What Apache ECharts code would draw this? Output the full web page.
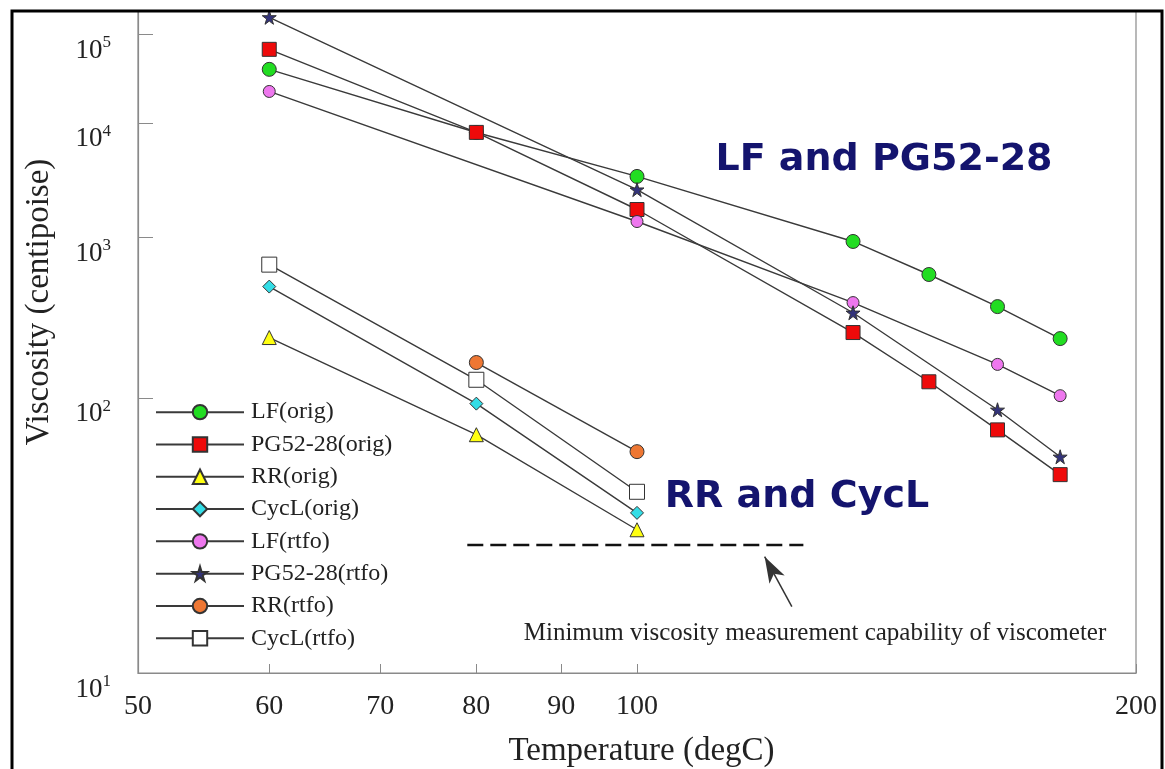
<!DOCTYPE html>
<html>
<head>
<meta charset="utf-8">
<script src="https://cdn.jsdelivr.net/npm/echarts@6/dist/echarts.min.js"></script>
<style>
  html, body { margin: 0; padding: 0; background: #fff; }
  #chart { width: 1165px; height: 769px; }
</style>
</head>
<body>
<div id="chart"></div>
<script>
// temperatures (degC) and viscosities (centipoise)
var lfOrigT = [60, 80, 100, 135, 150, 165, 180];
var lfOrigV = [37700, 8000, 3120, 925, 536, 329, 210];
var pgOrigT = [60, 80, 100, 135, 150, 165, 180];
var pgOrigV = [65000, 8020, 1640, 228, 121, 70, 44.5];
var rrOrigT = [60, 80, 100];
var rrOrigV = [213, 66.5, 27.2];
var cyclOrigT = [60, 80, 100];
var cyclOrigV = [444, 93.6, 31.4];
var lfRtfoT = [60, 100, 135, 165, 180];
var lfRtfoV = [21300, 1315, 349, 150, 102.6];
var pgRtfoT = [60, 100, 135, 165, 180];
var pgRtfoV = [165000, 2400, 301, 87.3, 53];
var rrRtfoT = [80, 100];
var rrRtfoV = [153.6, 55.8];
var cyclRtfoT = [60, 80, 100];
var cyclRtfoV = [628, 124, 37.9];

// viscometer limit and arrow
var minLineT = [79, 126];
var minLineV = 24;
var arrowFrom = [124, 15.2];
var arrowTo = [119.4, 21.9];

var xTicks = [50, 60, 70, 80, 90, 100, 200];
var yTicks = [10, 100, 1000, 10000, 100000];
var xRange = [50, 200];
var yRange = [10, 200000];

// log temperature, log-log viscosity
function tx(t) { return Math.log10(t); }
function ty(v) { return Math.log10(Math.log10(v)); }
function pts(ts, vs) {
  var res = [];
  for (var i = 0; i < ts.length; i++) res.push([tx(ts[i]), ty(vs[i])]);
  return res;
}

var serif = "'Liberation Serif', 'Times New Roman', serif";
var starPath = 'path://M50,0 L61,35 L98,35 L68,57 L79,91 L50,70 L21,91 L32,57 L2,35 L39,35 Z';

function mk(name, ts, vs, symbol, size, color) {
  return {
    name: name,
    type: 'line',
    data: pts(ts, vs),
    symbol: symbol,
    symbolSize: size,
    showSymbol: true,
    lineStyle: { color: '#3a3a3a', width: 1.4 },
    itemStyle: { color: color, borderColor: '#333', borderWidth: 1 },
    emphasis: { disabled: true },
    z: 3
  };
}

var myChart = echarts.init(document.getElementById('chart'));

myChart.setOption({
  animation: false,
  backgroundColor: '#fff',
  grid: {
    left: 138, right: 29, top: 11, bottom: 96,
    outerBoundsMode: 'none',
    containLabel: false,
    show: true, borderColor: '#8a8a8a', borderWidth: 1.2
  },
  legend: {
    orient: 'vertical',
    left: 150,
    top: 395,
    itemWidth: 88,
    itemHeight: 18,
    itemGap: 8,
    data: ['LF(orig)', 'PG52-28(orig)', 'RR(orig)', 'CycL(orig)',
           'LF(rtfo)', 'PG52-28(rtfo)', 'RR(rtfo)', 'CycL(rtfo)'],
    textStyle: { fontFamily: serif, fontSize: 24, color: '#222', lineHeight: 24.3, padding: [0, 0, 0, 2] }
  },
  xAxis: {
    type: 'value',
    min: tx(xRange[0]),
    max: tx(xRange[1]),
    name: 'Temperature (degC)',
    nameLocation: 'middle',
    nameGap: 62,
    nameTextStyle: { fontFamily: serif, fontSize: 33, color: '#222', padding: [0, 0, 0, 9] },
    axisLine: { show: true, lineStyle: { color: '#8a8a8a', width: 1.2 } },
    axisTick: { show: true, inside: true, length: 9, customValues: xTicks.map(tx),
                lineStyle: { color: '#8a8a8a' } },
    axisLabel: {
      customValues: xTicks.map(tx),
      formatter: function (v) { return String(Math.round(Math.pow(10, v))); },
      fontFamily: serif, fontSize: 28, color: '#222', margin: 20
    },
    splitLine: { show: false }
  },
  yAxis: {
    type: 'value',
    min: ty(yRange[0]),
    max: ty(yRange[1]),
    name: 'Viscosity (centipoise)',
    nameLocation: 'middle',
    nameRotate: 90,
    nameGap: 82,
    nameTextStyle: { fontFamily: serif, fontSize: 33, color: '#222', padding: [0, 0, 0, 80] },
    axisLine: { show: true, lineStyle: { color: '#8a8a8a', width: 1.2 } },
    axisTick: { show: true, inside: true, length: 15, customValues: yTicks.map(ty),
                lineStyle: { color: '#8a8a8a' } },
    axisLabel: {
      customValues: yTicks.map(ty),
      formatter: function (v) {
        var e = Math.round(Math.log10(Math.pow(10, Math.pow(10, v))));
        return '{b|10}{s|' + e + '}';
      },
      margin: 27,
      verticalAlign: 'top',
      rich: {
        b: { fontFamily: serif, fontSize: 27, color: '#222', lineHeight: 30, verticalAlign: 'bottom' },
        s: { fontFamily: serif, fontSize: 17, color: '#222', lineHeight: 30, verticalAlign: 'top' }
      }
    },
    splitLine: { show: false }
  },
  series: [
    mk('LF(orig)', lfOrigT, lfOrigV, 'circle', 14, '#22dd22'),
    mk('PG52-28(orig)', pgOrigT, pgOrigV, 'rect', 14, '#ee0a0a'),
    mk('RR(orig)', rrOrigT, rrOrigV, 'triangle', 14, '#ffff11'),
    mk('CycL(orig)', cyclOrigT, cyclOrigV, 'diamond', 13, '#33dde6'),
    mk('LF(rtfo)', lfRtfoT, lfRtfoV, 'circle', 12, '#ee77ee'),
    mk('PG52-28(rtfo)', pgRtfoT, pgRtfoV, starPath, 14, '#33337a'),
    mk('RR(rtfo)', rrRtfoT, rrRtfoV, 'circle', 14, '#ee7733'),
    mk('CycL(rtfo)', cyclRtfoT, cyclRtfoV, 'rect', 15, '#ffffff'),
    {
      name: 'limit',
      type: 'line',
      data: [[tx(minLineT[0]), ty(minLineV)], [tx(minLineT[1]), ty(minLineV)]],
      symbol: 'none',
      lineStyle: { color: '#111', width: 2.5, type: [16, 7] },
      emphasis: { disabled: true },
      markLine: {
        silent: true,
        symbol: ['none', 'arrow'],
        symbolSize: [13, 26],
        label: { show: false },
        lineStyle: { color: '#333', width: 1.5, type: 'solid' },
        data: [[
          { coord: [tx(arrowFrom[0]), ty(arrowFrom[1])] },
          { coord: [tx(arrowTo[0]), ty(arrowTo[1])] }
        ]]
      }
    }
  ],
  graphic: [
    {
      type: 'text',
      style: {
        x: 884, y: 160, text: 'LF and PG52-28', align: 'center', verticalAlign: 'middle',
        font: "bold 38px 'DejaVu Sans', sans-serif", fill: '#14146e'
      }
    },
    {
      type: 'text',
      style: {
        x: 797, y: 497, text: 'RR and CycL', align: 'center', verticalAlign: 'middle',
        font: "bold 38px 'DejaVu Sans', sans-serif", fill: '#14146e'
      }
    },
    {
      type: 'text',
      style: {
        x: 815, y: 633, text: 'Minimum viscosity measurement capability of viscometer',
        align: 'center', verticalAlign: 'middle',
        font: "25px 'Liberation Serif', 'Times New Roman', serif", fill: '#222'
      }
    },
    {
      type: 'rect', z: 100,
      shape: { x: 12, y: 11, width: 1150, height: 800 },
      style: { fill: 'none', stroke: '#000', lineWidth: 3 }
    }
  ]
});

window.addEventListener('resize', function () {
  myChart.resize();
});
</script>
</body>
</html>
